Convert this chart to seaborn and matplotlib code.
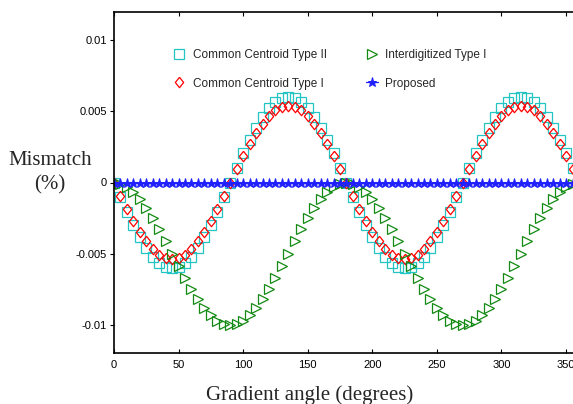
import matplotlib
matplotlib.use("Agg")
import matplotlib.pyplot as plt
import numpy as np
import pandas as pd
import seaborn as sns

# gradient angle, degrees (5 degree steps)
angle = list(range(0, 360, 5))

# mismatch (%), one half period (0..175), repeats every 180 deg
cc2_half = [0.0, -0.00104, -0.00205, -0.0030, -0.00386, -0.0046, -0.0052, -0.00564, -0.00591,
            -0.0060, -0.00591, -0.00564, -0.0052, -0.0046, -0.00386, -0.0030, -0.00205, -0.00104,
            0.0, 0.00104, 0.00205, 0.0030, 0.00386, 0.0046, 0.0052, 0.00564, 0.00591,
            0.0060, 0.00591, 0.00564, 0.0052, 0.0046, 0.00386, 0.0030, 0.00205, 0.00104]
cc1_half = [0.0, -0.00094, -0.00185, -0.0027, -0.00347, -0.00414, -0.00468, -0.00507, -0.00532,
            -0.0054, -0.00532, -0.00507, -0.00468, -0.00414, -0.00347, -0.0027, -0.00185, -0.00094,
            0.0, 0.00094, 0.00185, 0.0027, 0.00347, 0.00414, 0.00468, 0.00507, 0.00532,
            0.0054, 0.00532, 0.00507, 0.00468, 0.00414, 0.00347, 0.0027, 0.00185, 0.00094]
idi_half = [0.0, -0.00008, -0.0003, -0.00067, -0.00117, -0.00179, -0.0025, -0.00329, -0.00413,
            -0.0050, -0.00587, -0.00671, -0.0075, -0.00821, -0.00883, -0.00933, -0.0097, -0.00992,
            -0.0100, -0.00992, -0.0097, -0.00933, -0.00883, -0.00821, -0.0075, -0.00671, -0.00587,
            -0.0050, -0.00413, -0.00329, -0.0025, -0.00179, -0.00117, -0.00067, -0.0003, -0.00008]
cc2 = cc2_half + cc2_half
cc1 = cc1_half + cc1_half
idi = idi_half + idi_half
proposed = [0.0] * len(angle)

xticks = [0, 50, 100, 150, 200, 250, 300, 350]
yticks = [-0.01, -0.005, 0, 0.005, 0.01]
ytick_labels = ["-0.01", "-0.005", "0", "0.005", "0.01"]

df = pd.DataFrame({"angle": angle, "cc2": cc2, "cc1": cc1, "idi": idi, "proposed": proposed})

sns.set_theme(style="white")
plt.rcParams["font.family"] = ["Liberation Sans", "DejaVu Sans"]

W, H = 573, 404
fig = plt.figure(figsize=(W / 100, H / 100), dpi=100)
ax = fig.add_axes([114 / W, 1 - 353.3 / H, 465 / W, 341.6 / H])

diamond = [(0, 1), (0.8, 0), (0, -1), (-0.8, 0), (0, 1)]

sns.lineplot(data=df, x="angle", y="cc2", ax=ax, linestyle="none", marker="s", markersize=7.5,
             markerfacecolor="none", markeredgecolor="#22c4c4", markeredgewidth=0.9,
             color="#22c4c4", label="Common Centroid Type II")
sns.lineplot(data=df, x="angle", y="cc1", ax=ax, linestyle="none", marker=diamond, markersize=7.5,
             markerfacecolor="none", markeredgecolor="#ff0000", markeredgewidth=0.9,
             color="#ff0000", label="Common Centroid Type I")
sns.lineplot(data=df, x="angle", y="idi", ax=ax, linestyle="none", marker=">", markersize=7.5,
             markerfacecolor="none", markeredgecolor="#138a13", markeredgewidth=0.9,
             color="#138a13", label="Interdigitized Type I")
sns.lineplot(data=df, x="angle", y="proposed", ax=ax, linestyle="-", linewidth=0.9, marker="*",
             markersize=6.5, markerfacecolor="#2020ff", markeredgecolor="#2020ff",
             color="#2020ff", label="Proposed")

ax.set_xlim(0, 360)
ax.set_ylim(-0.012, 0.012)
ax.set_xticks(xticks)
ax.set_xticklabels([str(t) for t in xticks])
ax.set_yticks(yticks)
ax.set_yticklabels(ytick_labels)
ax.set_xlabel("")
ax.set_ylabel("")

for s in ax.spines.values():
    s.set_color("black")
    s.set_linewidth(1.2)
ax.tick_params(axis="x", direction="in", top=True, bottom=True, length=3, width=0.8,
               labelsize=8, pad=5, colors="black")
ax.tick_params(axis="y", direction="out", left=True, length=3, width=0.8,
               labelsize=8, pad=2, colors="black")

leg = ax.legend(ncol=2, frameon=False, loc="upper left",
                bbox_to_anchor=(173.5 / W, 1 - 49 / H), bbox_transform=fig.transFigure,
                fontsize=8.5, handlelength=1.0, handletextpad=0.65, labelspacing=1.4,
                columnspacing=3.3, borderpad=0, borderaxespad=0)

fig.text(50 / W, 1 - 173 / H, "Mismatch\n(%)", ha="center", va="center",
         family=["Liberation Serif", "DejaVu Serif"], fontsize=15, linespacing=1.35)
fig.text(310 / W, 4 / H, "Gradient angle (degrees)", ha="center", va="baseline",
         family=["Liberation Serif", "DejaVu Serif"], fontsize=15)

fig.savefig("out.png", dpi=100)
